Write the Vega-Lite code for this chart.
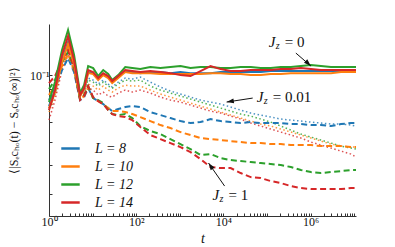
{
  "$schema": "https://vega.github.io/schema/vega-lite/v6.json",
  "width": 307,
  "height": 192,
  "autosize": {"type": "none"},
  "padding": {"left": 49, "top": 24, "right": 39, "bottom": 31},
  "background": "white",
  "config": {
    "view": {"stroke": null},
    "axis": {"grid": false, "domainColor": "#333", "tickColor": "#333", "labelFont": "Liberation Serif", "titleFont": "Liberation Serif", "labelColor": "#111", "titleColor": "#111", "zindex": 1, "titleFontWeight": "normal"}
  },
  "datasets": {
    "jz0": [
      {"t": 1, "8": 0.07882, "10": 0.07762, "12": 0.08128, "14": 0.07644},
      {"t": 1.374, "8": 0.08913, "10": 0.08778, "12": 0.09477, "14": 0.08913},
      {"t": 1.991, "8": 0.1122, "10": 0.1105, "12": 0.1212, "14": 0.1166},
      {"t": 2.735, "8": 0.1288, "10": 0.1269, "12": 0.1413, "14": 0.1349},
      {"t": 3.758, "8": 0.1105, "10": 0.1088, "12": 0.1166, "14": 0.1122},
      {"t": 5.164, "8": 0.08577, "10": 0.08511, "12": 0.0871, "14": 0.08577},
      {"t": 6.397, "8": 0.09051, "10": 0.08982, "12": 0.09261, "14": 0.09051},
      {"t": 7.907, "8": 0.1023, "10": 0.1015, "12": 0.1072, "14": 0.1039},
      {"t": 10.3, "8": 0.1015, "10": 0.1008, "12": 0.1055, "14": 0.1023},
      {"t": 13.43, "8": 0.09698, "10": 0.09624, "12": 0.09924, "14": 0.09772},
      {"t": 17.5, "8": 0.1008, "10": 0.1, "12": 0.1039, "14": 0.1015},
      {"t": 22.8, "8": 0.09848, "10": 0.09772, "12": 0.1008, "14": 0.09924},
      {"t": 28.18, "8": 0.09477, "10": 0.09405, "12": 0.09624, "14": 0.0955},
      {"t": 38.73, "8": 0.09848, "10": 0.09772, "12": 0.1, "14": 0.09924},
      {"t": 56.1, "8": 0.1031, "10": 0.1023, "12": 0.1063, "14": 0.1039},
      {"t": 81.28, "8": 0.1023, "10": 0.1015, "12": 0.1055, "14": 0.1031},
      {"t": 124.2, "8": 0.1015, "10": 0.1015, "12": 0.1047, "14": 0.1023},
      {"t": 210.9, "8": 0.1023, "10": 0.1015, "12": 0.1063, "14": 0.1031},
      {"t": 358.9, "8": 0.1023, "10": 0.1008, "12": 0.1055, "14": 0.1023},
      {"t": 609.5, "8": 0.1015, "10": 0.1008, "12": 0.1063, "14": 0.1015},
      {"t": 1035, "8": 0.1023, "10": 0.1008, "12": 0.1072, "14": 0.1},
      {"t": 1758, "8": 0.1015, "10": 0.1008, "12": 0.1055, "14": 0.09924},
      {"t": 2985, "8": 0.1015, "10": 0.1008, "12": 0.1063, "14": 0.1031},
      {"t": 5070, "8": 0.1015, "10": 0.1015, "12": 0.1063, "14": 0.1072},
      {"t": 8630, "8": 0.1023, "10": 0.1015, "12": 0.1055, "14": 0.1047},
      {"t": 14660, "8": 0.1023, "10": 0.1008, "12": 0.1055, "14": 0.1031},
      {"t": 24890, "8": 0.1023, "10": 0.1008, "12": 0.1063, "14": 0.1031},
      {"t": 42270, "8": 0.1023, "10": 0.1, "12": 0.1063, "14": 0.1039},
      {"t": 71780, "8": 0.1023, "10": 0.1, "12": 0.1055, "14": 0.1039},
      {"t": 121900, "8": 0.1031, "10": 0.1008, "12": 0.1055, "14": 0.1039},
      {"t": 207000, "8": 0.1031, "10": 0.1008, "12": 0.1063, "14": 0.1047},
      {"t": 352400, "8": 0.1031, "10": 0.1015, "12": 0.1063, "14": 0.1047},
      {"t": 598400, "8": 0.1031, "10": 0.1015, "12": 0.1072, "14": 0.1055},
      {"t": 1016000, "8": 0.1031, "10": 0.1015, "12": 0.108, "14": 0.1047},
      {"t": 1726000, "8": 0.1031, "10": 0.1015, "12": 0.1072, "14": 0.1039},
      {"t": 2931000, "8": 0.1031, "10": 0.1015, "12": 0.1063, "14": 0.1039},
      {"t": 4977000, "8": 0.1031, "10": 0.1023, "12": 0.1063, "14": 0.1039},
      {"t": 8453000, "8": 0.1031, "10": 0.1023, "12": 0.1063, "14": 0.1039},
      {"t": 11000000, "8": 0.1031, "10": 0.1023, "12": 0.1063, "14": 0.1039}
    ],
    "jz001": [
      {"t": 1, "8": 0.07762, "10": 0.07528, "12": 0.07644, "14": 0.07079},
      {"t": 1.374, "8": 0.08778, "10": 0.08511, "12": 0.08644, "14": 0.08254},
      {"t": 1.991, "8": 0.1072, "10": 0.1055, "12": 0.1105, "14": 0.1039},
      {"t": 2.735, "8": 0.1212, "10": 0.123, "12": 0.1259, "14": 0.1166},
      {"t": 3.758, "8": 0.108, "10": 0.1072, "12": 0.1105, "14": 0.1023},
      {"t": 5.164, "8": 0.08577, "10": 0.08511, "12": 0.08644, "14": 0.08382},
      {"t": 6.397, "8": 0.08778, "10": 0.0871, "12": 0.08913, "14": 0.08577},
      {"t": 7.907, "8": 0.09772, "10": 0.09333, "12": 0.09624, "14": 0.09051},
      {"t": 10.3, "8": 0.09624, "10": 0.09191, "12": 0.09477, "14": 0.08913},
      {"t": 13.43, "8": 0.09333, "10": 0.08913, "12": 0.09191, "14": 0.08577},
      {"t": 17.5, "8": 0.09624, "10": 0.09191, "12": 0.09477, "14": 0.08778},
      {"t": 22.8, "8": 0.09333, "10": 0.08913, "12": 0.09191, "14": 0.08511},
      {"t": 28.18, "8": 0.0912, "10": 0.08778, "12": 0.09051, "14": 0.08446},
      {"t": 38.73, "8": 0.09477, "10": 0.09051, "12": 0.09333, "14": 0.0871},
      {"t": 56.1, "8": 0.09772, "10": 0.09261, "12": 0.09624, "14": 0.08913},
      {"t": 81.28, "8": 0.09698, "10": 0.09191, "12": 0.0955, "14": 0.08778},
      {"t": 124.2, "8": 0.09848, "10": 0.09191, "12": 0.09624, "14": 0.08913},
      {"t": 210.9, "8": 0.09477, "10": 0.08913, "12": 0.09191, "14": 0.0871},
      {"t": 358.9, "8": 0.0912, "10": 0.08644, "12": 0.08913, "14": 0.08446},
      {"t": 609.5, "8": 0.08845, "10": 0.08446, "12": 0.0871, "14": 0.08254},
      {"t": 1035, "8": 0.08644, "10": 0.08254, "12": 0.08511, "14": 0.08128},
      {"t": 1758, "8": 0.08446, "10": 0.08066, "12": 0.08318, "14": 0.07943},
      {"t": 2985, "8": 0.08254, "10": 0.07882, "12": 0.08128, "14": 0.07762},
      {"t": 5070, "8": 0.08128, "10": 0.07703, "12": 0.07943, "14": 0.07586},
      {"t": 8630, "8": 0.08004, "10": 0.07528, "12": 0.07762, "14": 0.0747},
      {"t": 14660, "8": 0.07822, "10": 0.07356, "12": 0.07586, "14": 0.073},
      {"t": 24890, "8": 0.07644, "10": 0.07189, "12": 0.07413, "14": 0.07134},
      {"t": 42270, "8": 0.0747, "10": 0.07025, "12": 0.073, "14": 0.06918},
      {"t": 71780, "8": 0.07356, "10": 0.06865, "12": 0.07134, "14": 0.06761},
      {"t": 121900, "8": 0.07244, "10": 0.06761, "12": 0.06971, "14": 0.06607},
      {"t": 207000, "8": 0.07134, "10": 0.06607, "12": 0.06761, "14": 0.06457},
      {"t": 352400, "8": 0.07079, "10": 0.06457, "12": 0.06556, "14": 0.0631},
      {"t": 598400, "8": 0.07025, "10": 0.0631, "12": 0.06358, "14": 0.06166},
      {"t": 1016000, "8": 0.06971, "10": 0.06166, "12": 0.06214, "14": 0.0598},
      {"t": 1726000, "8": 0.06918, "10": 0.06026, "12": 0.06072, "14": 0.05843},
      {"t": 2931000, "8": 0.06865, "10": 0.05888, "12": 0.05934, "14": 0.0571},
      {"t": 4977000, "8": 0.06865, "10": 0.05799, "12": 0.05799, "14": 0.0558},
      {"t": 8453000, "8": 0.06813, "10": 0.05754, "12": 0.0571, "14": 0.05453},
      {"t": 11000000, "8": 0.06761, "10": 0.05754, "12": 0.05667, "14": 0.05329}
    ],
    "jz1": [
      {"t": 1, "8": 0.08254, "10": 0.08577, "12": 0.08982, "14": 0.09405},
      {"t": 1.374, "8": 0.09051, "10": 0.09261, "12": 0.09624, "14": 0.09924},
      {"t": 1.991, "8": 0.1039, "10": 0.1072, "12": 0.1105, "14": 0.1122},
      {"t": 2.735, "8": 0.1139, "10": 0.1175, "12": 0.1193, "14": 0.1212},
      {"t": 3.758, "8": 0.1023, "10": 0.1039, "12": 0.1055, "14": 0.1063},
      {"t": 5.164, "8": 0.08254, "10": 0.08318, "12": 0.08318, "14": 0.08254},
      {"t": 6.397, "8": 0.08446, "10": 0.08511, "12": 0.08577, "14": 0.08511},
      {"t": 7.907, "8": 0.09051, "10": 0.0912, "12": 0.09191, "14": 0.09191},
      {"t": 10.3, "8": 0.08382, "10": 0.08382, "12": 0.08382, "14": 0.08446},
      {"t": 13.43, "8": 0.08191, "10": 0.08191, "12": 0.08254, "14": 0.08191},
      {"t": 17.5, "8": 0.08004, "10": 0.08004, "12": 0.08066, "14": 0.08004},
      {"t": 22.8, "8": 0.07762, "10": 0.07762, "12": 0.07644, "14": 0.07644},
      {"t": 28.18, "8": 0.07586, "10": 0.07586, "12": 0.07413, "14": 0.07413},
      {"t": 38.73, "8": 0.07703, "10": 0.07586, "12": 0.07356, "14": 0.073},
      {"t": 56.1, "8": 0.07822, "10": 0.07528, "12": 0.07413, "14": 0.07244},
      {"t": 81.28, "8": 0.07882, "10": 0.07413, "12": 0.07189, "14": 0.07079},
      {"t": 124.2, "8": 0.07822, "10": 0.07244, "12": 0.06761, "14": 0.06709},
      {"t": 210.9, "8": 0.07528, "10": 0.07025, "12": 0.06506, "14": 0.0631},
      {"t": 358.9, "8": 0.07356, "10": 0.06813, "12": 0.06358, "14": 0.06119},
      {"t": 609.5, "8": 0.07189, "10": 0.06658, "12": 0.06119, "14": 0.05934},
      {"t": 1035, "8": 0.07025, "10": 0.06457, "12": 0.05888, "14": 0.05754},
      {"t": 1758, "8": 0.06918, "10": 0.0631, "12": 0.05667, "14": 0.05538},
      {"t": 2985, "8": 0.06971, "10": 0.06166, "12": 0.05412, "14": 0.05248},
      {"t": 5070, "8": 0.07134, "10": 0.06119, "12": 0.05453, "14": 0.04936},
      {"t": 8630, "8": 0.07025, "10": 0.06072, "12": 0.05288, "14": 0.04898},
      {"t": 14660, "8": 0.06971, "10": 0.06026, "12": 0.05208, "14": 0.04898},
      {"t": 24890, "8": 0.06918, "10": 0.0598, "12": 0.05168, "14": 0.04714},
      {"t": 42270, "8": 0.06971, "10": 0.05934, "12": 0.05129, "14": 0.04571},
      {"t": 71780, "8": 0.06918, "10": 0.05934, "12": 0.0509, "14": 0.04537},
      {"t": 121900, "8": 0.06918, "10": 0.05888, "12": 0.05051, "14": 0.04433},
      {"t": 207000, "8": 0.06918, "10": 0.05888, "12": 0.05012, "14": 0.04365},
      {"t": 352400, "8": 0.06865, "10": 0.05843, "12": 0.04936, "14": 0.04266},
      {"t": 598400, "8": 0.06865, "10": 0.05843, "12": 0.04824, "14": 0.04201},
      {"t": 1016000, "8": 0.06813, "10": 0.05843, "12": 0.0475, "14": 0.04169},
      {"t": 1726000, "8": 0.06813, "10": 0.05799, "12": 0.04714, "14": 0.04169},
      {"t": 2931000, "8": 0.06761, "10": 0.05799, "12": 0.0475, "14": 0.04169},
      {"t": 4977000, "8": 0.06865, "10": 0.05799, "12": 0.04787, "14": 0.04169},
      {"t": 8453000, "8": 0.06918, "10": 0.05754, "12": 0.04824, "14": 0.04201},
      {"t": 11000000, "8": 0.06918, "10": 0.05754, "12": 0.04824, "14": 0.04201}
    ],
    "ann": [
      {"id": "j0", "t": 109700, "v": 0.1288, "rest": "= 0"},
      {"id": "j001", "t": 58080, "v": 0.08446, "rest": "= 0.01"},
      {"id": "j1", "t": 5640, "v": 0.03981, "rest": "= 1"}
    ],
    "arr": [
      {"id": "j0", "t1": 459200, "v1": 0.1184, "t2": 1016000, "v2": 0.1072},
      {"id": "j001", "t1": 46990, "v1": 0.08382, "t2": 11860, "v2": 0.08128},
      {"id": "j1", "t1": 10660, "v1": 0.04266, "t2": 4564, "v2": 0.0509}
    ]
  },
  "layer": [
    {
      "data": {"name": "jz001"},
      "transform": [{"fold": ["8", "10", "12", "14"], "as": ["L", "v"]}],
      "mark": {"type": "line", "strokeWidth": 1.5, "strokeDash": [1.5, 2.5], "opacity": 0.8},
      "encoding": {
        "x": {"field": "t", "type": "quantitative", "scale": {"type": "log", "domain": [1, 11000000], "nice": false},
          "axis": {
            "title": "t", "titleFontStyle": "italic", "titleFontSize": 14, "titleY": 22, "titleBaseline": "middle",
            "values": [1,2,3,4,5,6,7,8,9,10,20,30,40,50,60,70,80,90,100,200,300,400,500,600,700,800,900,1000,2000,3000,4000,5000,6000,7000,8000,9000,10000,20000,30000,40000,50000,60000,70000,80000,90000,100000,200000,300000,400000,500000,600000,700000,800000,900000,1000000,2000000,3000000,4000000,5000000,6000000,7000000,8000000,9000000,10000000],
            "labelExpr": "datum.value == 1 ? '10⁰' : datum.value == 100 ? '10²' : datum.value == 10000 ? '10⁴' : datum.value == 1000000 ? '10⁶' : ''",
            "tickSize": -3,
            "labelFontSize": 12, "labelPadding": 3, "labelBaseline": "top", "labelFlush": false, "labelOverlap": false
          }
        },
        "y": {"field": "v", "type": "quantitative", "scale": {"type": "log", "domain": [0.0339, 0.148], "nice": false},
          "axis": {
            "title": "⟨|Sₑcₕₒ(t) − Sₑcₕₒ(∞)|²⟩", "titleFontSize": 12, "titleX": -36, "titleY": 96, "titleAngle": -90, "titleAlign": "center", "titleBaseline": "middle",
            "values": [0.04, 0.05, 0.06, 0.07, 0.08, 0.09, 0.1],
            "labelExpr": "datum.value == 0.1 ? '10⁻¹' : ''",
            "tickSize": -3,
            "labelFontSize": 12, "labelPadding": 3, "labelOverlap": false
          }
        },
        "color": {"field": "L", "type": "nominal", "scale": {"domain": ["8", "10", "12", "14"], "range": ["#1f77b4", "#ff7f0e", "#2ca02c", "#d62728"]},
          "legend": {"orient": "none", "legendX": 11, "legendY": 114, "title": null, "symbolType": "stroke", "symbolSize": 340, "symbolStrokeWidth": 2.5, "symbolDash": [1, 0], "symbolOpacity": 1, "labelFont": "Liberation Serif", "labelFontSize": 14, "labelFontStyle": "italic", "labelExpr": "'L = ' + datum.label", "labelOffset": 14, "rowPadding": 0, "padding": 0, "labelColor": "#111"}
        }
      }
    },
    {
      "data": {"name": "jz1"},
      "transform": [{"fold": ["8", "10", "12", "14"], "as": ["L", "v"]}],
      "mark": {"type": "line", "strokeWidth": 2, "strokeDash": [6, 3.5]},
      "encoding": {
        "x": {"field": "t", "type": "quantitative", "scale": {"type": "log", "domain": [1, 11000000], "nice": false}},
        "y": {"field": "v", "type": "quantitative", "scale": {"type": "log", "domain": [0.0339, 0.148], "nice": false}},
        "color": {"field": "L", "type": "nominal", "scale": {"domain": ["8", "10", "12", "14"], "range": ["#1f77b4", "#ff7f0e", "#2ca02c", "#d62728"]}}
      }
    },
    {
      "data": {"name": "jz0"},
      "transform": [{"fold": ["8", "10", "12", "14"], "as": ["L", "v"]}],
      "mark": {"type": "line", "strokeWidth": 2},
      "encoding": {
        "x": {"field": "t", "type": "quantitative", "scale": {"type": "log", "domain": [1, 11000000], "nice": false}},
        "y": {"field": "v", "type": "quantitative", "scale": {"type": "log", "domain": [0.0339, 0.148], "nice": false}},
        "color": {"field": "L", "type": "nominal", "scale": {"domain": ["8", "10", "12", "14"], "range": ["#1f77b4", "#ff7f0e", "#2ca02c", "#d62728"]}}
      }
    },
    {
      "data": {"name": "arr"},
      "mark": {"type": "rule", "color": "#111", "strokeWidth": 1},
      "encoding": {
        "x": {"field": "t1", "type": "quantitative", "scale": {"type": "log", "domain": [1, 11000000], "nice": false}},
        "y": {"field": "v1", "type": "quantitative", "scale": {"type": "log", "domain": [0.0339, 0.148], "nice": false}},
        "x2": {"field": "t2"},
        "y2": {"field": "v2"}
      }
    },
    {
      "data": {"name": "arr"},
      "transform": [{"filter": "datum.id == 'j0'"}],
      "mark": {"type": "point", "shape": "M0,0L-0.4,1.2L0.4,1.2Z", "filled": true, "color": "#111", "opacity": 1, "size": 144, "angle": 133, "strokeWidth": 0},
      "encoding": {
        "x": {"field": "t2", "type": "quantitative", "scale": {"type": "log", "domain": [1, 11000000], "nice": false}},
        "y": {"field": "v2", "type": "quantitative", "scale": {"type": "log", "domain": [0.0339, 0.148], "nice": false}}
      }
    },
    {
      "data": {"name": "arr"},
      "transform": [{"filter": "datum.id == 'j001'"}],
      "mark": {"type": "point", "shape": "M0,0L-0.4,1.2L0.4,1.2Z", "filled": true, "color": "#111", "opacity": 1, "size": 144, "angle": 261, "strokeWidth": 0},
      "encoding": {
        "x": {"field": "t2", "type": "quantitative", "scale": {"type": "log", "domain": [1, 11000000], "nice": false}},
        "y": {"field": "v2", "type": "quantitative", "scale": {"type": "log", "domain": [0.0339, 0.148], "nice": false}}
      }
    },
    {
      "data": {"name": "arr"},
      "transform": [{"filter": "datum.id == 'j1'"}],
      "mark": {"type": "point", "shape": "M0,0L-0.4,1.2L0.4,1.2Z", "filled": true, "color": "#111", "opacity": 1, "size": 144, "angle": 325, "strokeWidth": 0},
      "encoding": {
        "x": {"field": "t2", "type": "quantitative", "scale": {"type": "log", "domain": [1, 11000000], "nice": false}},
        "y": {"field": "v2", "type": "quantitative", "scale": {"type": "log", "domain": [0.0339, 0.148], "nice": false}}
      }
    },
    {
      "data": {"name": "ann"},
      "mark": {"type": "text", "align": "left", "baseline": "middle", "font": "Liberation Serif", "fontSize": 15, "fontStyle": "italic", "color": "#111"},
      "encoding": {
        "x": {"field": "t", "type": "quantitative", "scale": {"type": "log", "domain": [1, 11000000], "nice": false}},
        "y": {"field": "v", "type": "quantitative", "scale": {"type": "log", "domain": [0.0339, 0.148], "nice": false}},
        "text": {"value": "J"}
      }
    },
    {
      "data": {"name": "ann"},
      "mark": {"type": "text", "align": "left", "baseline": "middle", "font": "Liberation Serif", "fontSize": 10, "fontStyle": "italic", "color": "#111", "dx": 7, "dy": 4},
      "encoding": {
        "x": {"field": "t", "type": "quantitative", "scale": {"type": "log", "domain": [1, 11000000], "nice": false}},
        "y": {"field": "v", "type": "quantitative", "scale": {"type": "log", "domain": [0.0339, 0.148], "nice": false}},
        "text": {"value": "z"}
      }
    },
    {
      "data": {"name": "ann"},
      "mark": {"type": "text", "align": "left", "baseline": "middle", "font": "Liberation Serif", "fontSize": 15, "color": "#111", "dx": 16},
      "encoding": {
        "x": {"field": "t", "type": "quantitative", "scale": {"type": "log", "domain": [1, 11000000], "nice": false}},
        "y": {"field": "v", "type": "quantitative", "scale": {"type": "log", "domain": [0.0339, 0.148], "nice": false}},
        "text": {"field": "rest"}
      }
    }
  ]
}
